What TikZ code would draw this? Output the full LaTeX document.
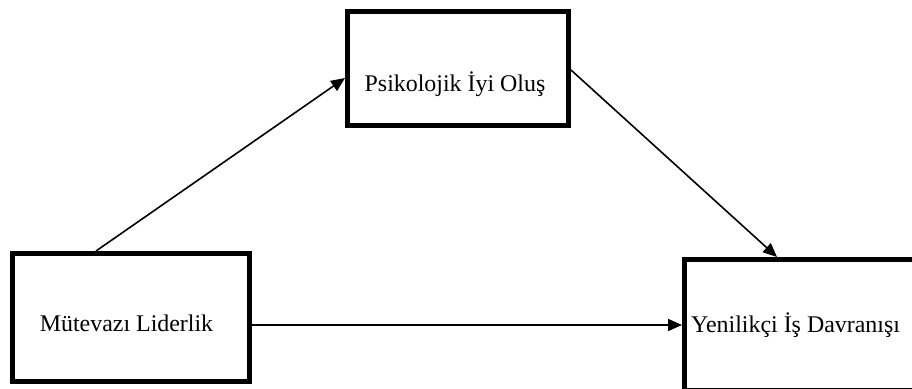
\documentclass[tikz,border=0pt]{standalone}
\usepackage{fontspec}
\setmainfont{Liberation Serif}
\usetikzlibrary{arrows.meta}
\begin{document}
\begin{tikzpicture}[x=1bp,y=-1bp,
  box/.style={draw, line width=5bp, rectangle, inner sep=0pt},
  lbl/.style={inner sep=0pt, font=\fontsize{24}{28}\selectfont},
  link/.style={line width=1.6bp, -{Triangle[length=14bp,width=12bp]}}]
\useasboundingbox (0,0) rectangle (912,388);
\clip (0,0) rectangle (912,388);
\fill[white] (0,0) rectangle (912,388);
% boxes
\node[box, minimum width=221bp, minimum height=114bp] (tbox) at (458,68.5) {};
\node[box, minimum width=237bp, minimum height=128bp] (lbox) at (131,317.5) {};
\node[box, minimum width=260bp, minimum height=131bp] (rbox) at (814.5,325) {};
% labels
\node[lbl] (tlbl) at (455,84) {Psikolojik İyi Oluş};
\node[lbl] (llbl) at (126.5,323) {Mütevazı Liderlik};
\node[lbl, anchor=west] (rlbl) at (691,325) {Yenilikçi İş Davranışı};
% connectors
\draw[link] ([xshift=86bp]lbox.north west) -- ([yshift=-69bp]tbox.north west);
\draw[link] ([yshift=-61bp]tbox.north east) -- ([xshift=95bp]rbox.north west);
\draw[link] ([yshift=-7.5bp]lbox.east) -- (rbox.west);
\end{tikzpicture}
\end{document}
